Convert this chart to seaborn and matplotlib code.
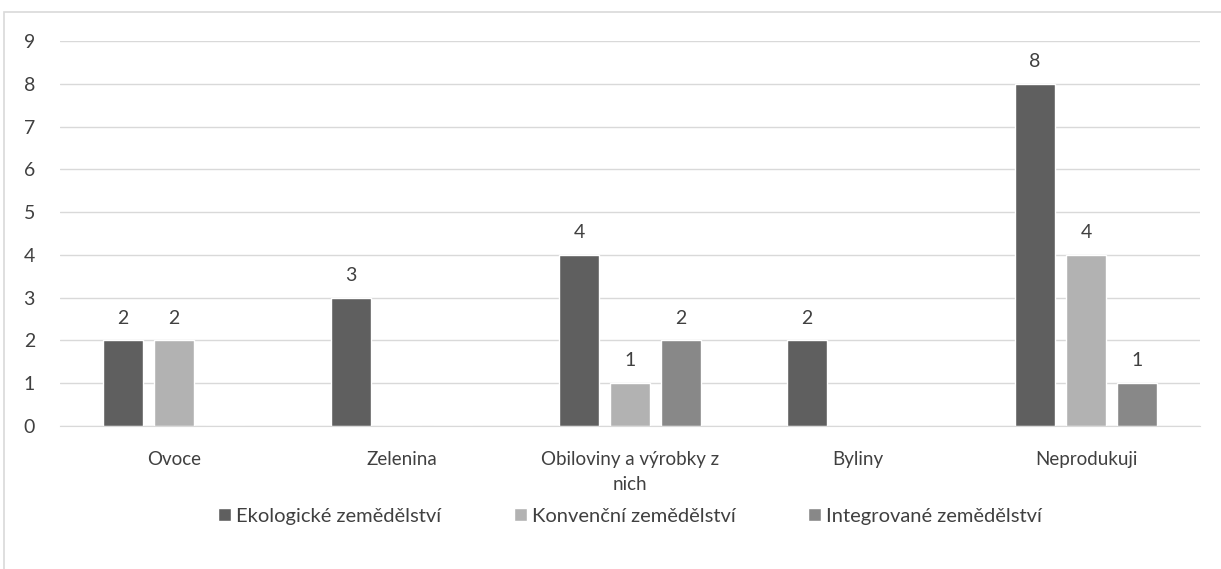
import numpy as np
import pandas as pd
import matplotlib.pyplot as plt
import seaborn as sns
from matplotlib.patches import Rectangle

# data
categories = ['Ovoce', 'Zelenina', 'Obiloviny a výrobky z\nnich', 'Byliny', 'Neprodukuji']
series = ['Ekologické zemědělství', 'Konvenční zemědělství', 'Integrované zemědělství']
ekologicke = [2, 3, 4, 2, 8]
konvencni = [2, 0, 1, 0, 4]
integrovane = [0, 0, 2, 0, 1]

df = pd.DataFrame({
    'Kategorie': categories * 3,
    'Typ': [series[0]] * 5 + [series[1]] * 5 + [series[2]] * 5,
    'Počet': ekologicke + konvencni + integrovane,
})

sns.set_style('white')
plt.rcParams['font.family'] = ['Lato', 'DejaVu Sans']

fig = plt.figure(figsize=(12.21, 5.69), dpi=100)
ax = fig.add_axes([60 / 1221, 1 - 426 / 569, 1140 / 1221, 385 / 569])

# chart frame (runs off the bottom and right edges)
fig.patches.append(Rectangle((4 / 1221, -0.1), 1.1, 1.1 - 12 / 569, transform=fig.transFigure,
                             fill=False, edgecolor='#d9d9d9', linewidth=1.2))

palette = ['#5f5f5f', '#b2b2b2', '#888888']
sns.barplot(data=df, x='Kategorie', y='Počet', hue='Typ', palette=palette,
            width=0.67, gap=0.22, ax=ax, legend=True, saturation=1)

for cont in ax.containers:
    labels = [f'{int(v)}' if v > 0 else '' for v in cont.datavalues]
    ax.bar_label(cont, labels=labels, padding=10, fontsize=14, color='#404040')

ax.set_ylim(0, 9)
ax.set_yticks(range(0, 10))
ax.yaxis.grid(True, color='#d9d9d9', linewidth=1)
ax.set_axisbelow(True)
for s in ['left', 'right', 'top']:
    ax.spines[s].set_visible(False)
ax.spines['bottom'].set_color('#d9d9d9')
ax.tick_params(axis='both', length=0, labelcolor='#404040')
ax.tick_params(axis='y', pad=18, labelsize=14)
ax.tick_params(axis='x', pad=18, labelsize=13.5)
for t in ax.get_xticklabels():
    t.set_linespacing(1.55)
ax.set_xlabel('')
ax.set_ylabel('')

ax.legend(loc='upper center', bbox_to_anchor=(0.5, -0.165), ncol=3, frameon=False,
          fontsize=14.5, handlelength=0.65, handleheight=0.65, handletextpad=0.25,
          columnspacing=3.6, labelcolor='#404040')

fig.savefig('out.png', dpi=100)
